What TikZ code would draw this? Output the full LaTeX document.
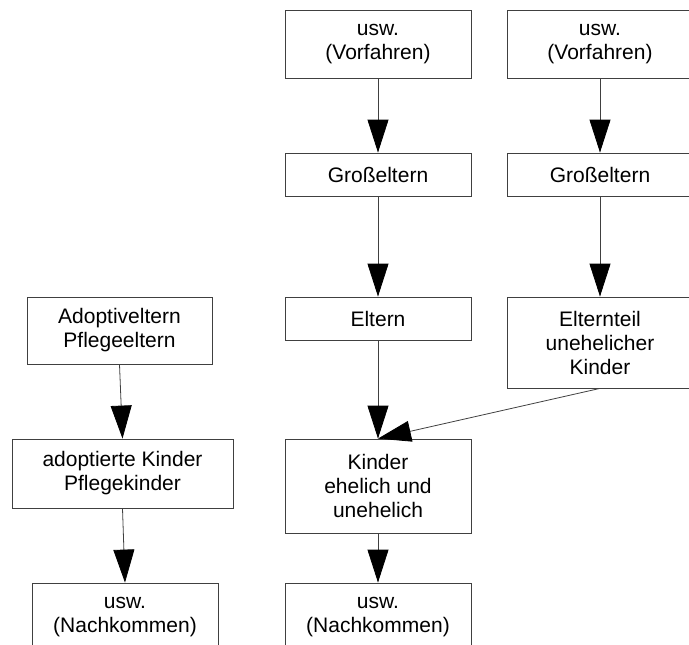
\documentclass[tikz,border=0pt]{standalone}
\usepackage{fontspec}
\setmainfont{Liberation Sans}
\usetikzlibrary{arrows.meta,positioning}

\begin{document}
\begin{tikzpicture}[x=1pt,y=-1pt,
    box/.style={draw=black!75, line width=0.8pt, align=center, inner sep=0pt,
        minimum width=186pt, font=\fontsize{21}{24}\selectfont},
    arr/.style={draw=black!75, line width=0.8pt,
        -{Triangle[length=33pt,width=21pt,color=black]}}]
    \path [use as bounding box, clip] (0,0) rectangle (689,645);

    % Vorfahren
    \node [box, minimum height=68pt] (usw1) at (378,44) {usw.\\(Vorfahren)};
    \node [box, minimum height=68pt] (usw2) at (600,44) {usw.\\(Vorfahren)};

    \node [box, minimum height=43pt] (gross1) at (378,174.5) {Großeltern};
    \node [box, minimum height=43pt] (gross2) at (600,174.5) {Großeltern};

    \node [box, minimum height=43pt] (eltern) at (378,318.5) {Eltern};
    \node [box, minimum height=91pt] (elternteil) at (600,342.5) {Elternteil\\unehelicher\\Kinder};

    \node [box, minimum height=94pt] (kinder) at (378,486) {Kinder\\ehelich und\\unehelich};
    \node [box, minimum height=68pt] (nach2) at (378,617) {usw.\\(Nachkommen)};

    % Adoption
    \node [box, minimum width=185pt, minimum height=67pt] (adoptiv) at (119.5,330.5) {Adoptiveltern\\Pflegeeltern};
    \node [box, minimum width=221pt, minimum height=69pt] (adoptiert) at (122.5,473.5) {adoptierte Kinder\\Pflegekinder};
    \node [box, minimum height=68pt] (nach1) at (125,617) {usw.\\(Nachkommen)};

    \draw [arr] (usw1.south) -- (gross1.north);
    \draw [arr] (usw2.south) -- (gross2.north);
    \draw [arr] (gross1.south) -- (eltern.north);
    \draw [arr] (gross2.south) -- (elternteil.north);
    \draw [arr] (eltern.south) -- (kinder.north);
    \draw [arr] (elternteil.south) -- (kinder.north);
    \draw [arr] (kinder.south) -- (nach2.north);
    \draw [arr] (adoptiv.south) -- (adoptiert.north);
    \draw [arr] (adoptiert.south) -- (nach1.north);
\end{tikzpicture}
\end{document}
